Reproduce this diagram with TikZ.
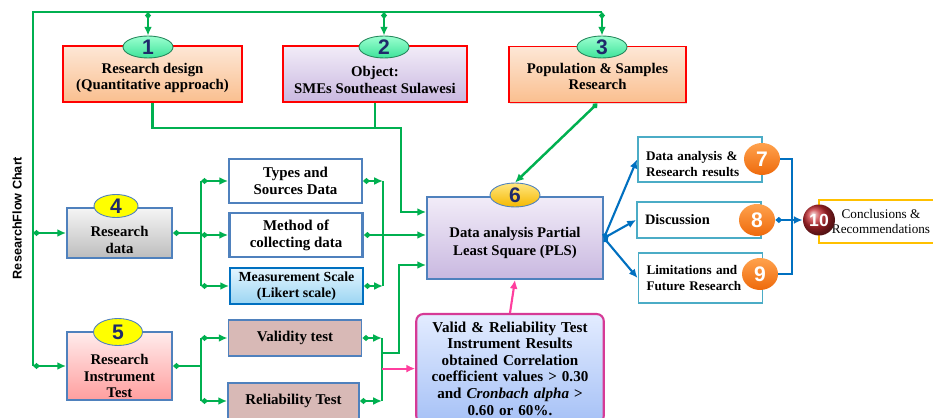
\documentclass[tikz,border=0pt]{standalone}
\usepackage{fontspec}
\setmainfont{Liberation Serif}
\setsansfont{Liberation Sans}
\usetikzlibrary{arrows.meta, positioning, shapes.geometric, calc, shadows}
\definecolor{rfgreen}{HTML}{00B050}
\definecolor{rfred}{HTML}{FF0000}
\definecolor{rfblue}{HTML}{4F81BD}
\definecolor{rfdarkblue}{HTML}{0070C0}
\definecolor{rfteal}{HTML}{4BACC6}
\definecolor{rfnavy}{HTML}{1F2A6B}
\definecolor{rfpink}{HTML}{FF3E9E}
\definecolor{rfmagenta}{HTML}{D63A96}
\definecolor{rfpeach}{HTML}{FDE7D6}
\definecolor{rforange}{HTML}{FABF8F}
\definecolor{rflilac}{HTML}{F2ECF8}
\definecolor{rfpurple}{HTML}{C9B8E0}
\definecolor{rfmint}{HTML}{9BFFD0}
\definecolor{rfmintdark}{HTML}{3EE39A}
\definecolor{rfyellow}{HTML}{FFFF00}
\definecolor{rfgold}{HTML}{F5B800}
\definecolor{rfgoldlight}{HTML}{FFE680}
\definecolor{rfgray}{HTML}{BDBDBD}
\definecolor{rfsky}{HTML}{E3F5FF}
\definecolor{rfskydark}{HTML}{9BD5F2}
\definecolor{rfrose}{HTML}{D8B9B6}
\definecolor{rfpinklight}{HTML}{FFECEC}
\definecolor{rfsalmon}{HTML}{FF9E9E}
\definecolor{rfice}{HTML}{E3ECFF}
\definecolor{rfperiwinkle}{HTML}{A6C1F6}
\definecolor{rfbadge}{HTML}{EE6A0C}
\definecolor{rfbadgelight}{HTML}{FFA24D}
\definecolor{rfwine}{HTML}{C42A30}
\definecolor{rfamber}{HTML}{FFC000}

\begin{document}
\begin{tikzpicture}[
  x=0.02cm, y=-0.02cm,
  every node/.style={font=\fontsize{8}{9.4}\selectfont\bfseries, align=center, inner sep=1pt},
  boxshadow/.style={drop shadow={opacity=0.25, shadow xshift=0.7pt, shadow yshift=-0.7pt}},
  topbox/.style={rectangle, draw=rfred, line width=1pt, minimum height=1.12cm, boxshadow},
  sidebox/.style={rectangle, draw=rfblue, line width=1.1pt, minimum width=2.1cm, boxshadow},
  subbox/.style={rectangle, draw=rfblue, line width=1.1pt, minimum width=2.66cm, minimum height=0.72cm, font=\fontsize{8.5}{9.6}\selectfont\bfseries},
  outbox/.style={rectangle, draw=rfteal, line width=1.1pt, fill=white, minimum width=2.48cm},
  bigtext/.style={font=\fontsize{8.4}{9.6}\selectfont\bfseries},
  outtext/.style={align=left, text width=2.16cm, font=\fontsize{7.5}{8.6}\selectfont\bfseries},
  numbadge/.style={ellipse, draw=#1, line width=0.5pt, inner sep=0pt, text=rfnavy, font=\fontsize{12}{12}\selectfont\sffamily\bfseries},
  roundbadge/.style={ellipse, minimum width=0.72cm, minimum height=0.64cm, inner sep=0pt, text=white, font=\fontsize{12}{12}\selectfont\sffamily\bfseries},
  flow/.style={rfgreen, line width=1.4pt},
  flowarrow/.style={flow, {Diamond[length=4pt,width=3.5pt]}-{Latex[length=5pt,width=4.5pt]}},
  pinkarrow/.style={rfpink, line width=1.2pt, -{Latex[length=5pt,width=4.5pt]}},
  bluearrow/.style={rfdarkblue, line width=1.2pt, {Circle[length=3pt]}-{Latex[length=5pt,width=4.5pt]}},
]
\useasboundingbox (0,0) rectangle (933,418);
\fill[white] (0,0) rectangle (933,418);
\clip (0,0) rectangle (933,418);

% Title on the left
\node[rotate=90, font=\fontsize{7.2}{8}\selectfont\sffamily\bfseries] (title) at (17,218) {ResearchFlow Chart};

% Top row
\node[topbox, top color=rfpeach, bottom color=rforange, minimum width=3.58cm] (b1) at (152.5,74) {};
\node[bigtext] (b1text) at (152.5,78) {Research design\\(Quantitative approach)};
\node[topbox, top color=rflilac, bottom color=rfpurple, minimum width=3.68cm] (b2) at (375,74) {};
\node[bigtext] (b2text) at (375,80) {Object:\\SMEs Southeast Sulawesi};
\node[topbox, top color=rfpeach, bottom color=rforange, minimum width=3.54cm] (b3) at (597.5,74.5) {};
\node[bigtext] (b3text) at (597.5,76.5) {Population \& Samples\\Research};
\node[numbadge=rfmintdark!60!black, top color=rfmint, bottom color=rfmintdark, minimum width=1cm, minimum height=0.44cm] (n1) at (148,47) {1};
\node[numbadge=rfmintdark!60!black, top color=rfmint, bottom color=rfmintdark, minimum width=1cm, minimum height=0.44cm] (n2) at (384,47) {2};
\node[numbadge=rfmintdark!60!black, top color=rfmint, bottom color=rfmintdark, minimum width=1cm, minimum height=0.44cm] (n3) at (602,47) {3};

% Research data and its sub-boxes
\node[sidebox, top color=white!96!black, bottom color=rfgray, minimum height=1cm] (b4) at (119.5,233) {};
\node[bigtext] (b4text) at (119.5,240) {Research\\data};
\node[numbadge=rfblue, fill=rfyellow, minimum width=0.88cm, minimum height=0.46cm] (n4) at (116,206) {4};
\node[subbox, fill=white, minimum height=0.88cm] (types) at (295.5,181) {Types and\\Sources Data};
\node[subbox, fill=white, line width=1.6pt, minimum height=0.88cm] (method) at (296,235) {Method of\\collecting data};
\node[subbox, draw=rfdarkblue, top color=rfsky, bottom color=rfskydark, font=\fontsize{7.9}{9}\selectfont\bfseries] (likert) at (296.5,286) {Measurement Scale\\(Likert scale)};

% Research instrument test and its sub-boxes
\node[sidebox, top color=rfpinklight, bottom color=rfsalmon, minimum height=1.36cm] (b5) at (119.5,366) {};
\node[bigtext, font=\fontsize{8.4}{9.2}\selectfont\bfseries] (b5text) at (119.5,376) {Research\\Instrument\\Test};
\node[numbadge=rfblue, fill=rfyellow, minimum width=0.98cm, minimum height=0.54cm] (n5) at (118,332) {5};
\node[subbox, fill=rfrose] (valid) at (295,338) {Validity test};
\node[subbox, fill=rfrose, minimum width=2.62cm] (reliab) at (293.5,401) {Reliability Test};

% Analysis
\node[rectangle, draw=rfblue, line width=1.1pt, top color=rflilac, bottom color=rfpurple, minimum width=3.52cm, minimum height=1.64cm, boxshadow] (pls) at (515,238) {};
\node[bigtext, font=\fontsize{8.4}{10}\selectfont\bfseries] (plstext) at (515,243) {Data analysis Partial\\Least Square (PLS)};
\node[numbadge=rfblue, top color=rfgoldlight, bottom color=rfgold, minimum width=1cm, minimum height=0.48cm] (n6) at (515,195) {6};
\node[rectangle, rounded corners=4pt, draw=rfmagenta, line width=1.2pt, top color=rfice, bottom color=rfperiwinkle, text width=3.68cm, inner xsep=1pt, inner ysep=4.5pt, anchor=north, font=\fontsize{8.6}{9.4}\selectfont\bfseries] (note) at (510,313) {Valid \& Reliability Test\\Instrument Results\\obtained Correlation\\coefficient values > 0.30\\and \textit{Cronbach alpha} >\\0.60 or 60\%.};

% Outcomes
\node[outbox, minimum height=0.9cm] (b7) at (700,159.5) {};
\node[outtext] (b7text) at (700,164) {Data analysis \&\\Research results};
\node[outbox, minimum height=0.72cm] (b8) at (699,220) {};
\node[outtext, font=\fontsize{8.2}{9}\selectfont\bfseries] (b8text) at (699,220) {Discussion};
\node[outbox, minimum height=1cm] (b9) at (700.5,278) {};
\node[outtext] (b9text) at (700.5,278) {Limitations and\\Future Research};
\node[roundbadge, top color=rfbadgelight, bottom color=rfbadge] (n7) at (762,159) {7};
\node[roundbadge, top color=rfbadgelight, bottom color=rfbadge] (n8) at (757,220) {8};
\node[roundbadge, top color=rfbadgelight, bottom color=rfbadge] (n9) at (760,274) {9};
\node[rectangle, draw=rfamber, line width=1.2pt, fill=white, minimum width=3cm, minimum height=0.86cm, anchor=west] (concl) at (818,221.5) {};
\node[font=\fontsize{7.5}{9}\selectfont] (concltext) at (881,221.5) {Conclusions \&\\Recommendations};
\node[roundbadge, ball color=rfwine, minimum width=0.64cm, minimum height=0.62cm, font=\fontsize{10}{10}\selectfont\sffamily\bfseries] (n10) at (819,220) {10};

% Outer green frame
\coordinate (topL) at (33,12);
\draw[flow] (n3 |- topL) -- (topL) -- (topL |- b5.west);
\draw[flowarrow] (topL -| n1) -- (n1.north);
\draw[flowarrow] (topL -| n2) -- (n2.north);
\draw[flowarrow] (topL -| n3) -- (n3.north);
\draw[flowarrow] (topL |- b4.west) -- (b4.west);
\draw[flowarrow] (topL |- b5.west) -- (b5.west);

% Design and object into PLS
\coordinate (j1) at (401,128);
\draw[flow, -{Latex[length=5pt,width=4.5pt]}] (b1.south) |- (j1) |- ($(pls.west)+(0,-26)$);
\draw[flow] (b2.south) -- (b2.south |- j1);
\draw[flowarrow] (b3.south) -- (n6.north);

% Research data bus
\coordinate (busA) at (201,233);
\coordinate (busB) at (383,233);
\draw[flow, {Diamond[length=4pt,width=3.5pt]}-] (b4.east) -- (busA);
\draw[flow] (busA |- types.west) -- (busA |- likert.west);
\draw[flowarrow] (busA |- types.west) -- (types.west);
\draw[flowarrow] (busA |- method.west) -- (method.west);
\draw[flowarrow] (busA |- likert.west) -- (likert.west);
\draw[flow] (busB |- types.east) -- (busB |- likert.east);
\draw[flowarrow] (types.east) -- (types.east -| busB);
\draw[flowarrow] (likert.east) -- (likert.east -| busB);
\draw[flowarrow] (method.east) -- (method.east -| pls.west);

% Instrument test bus
\coordinate (busC) at (201,366);
\coordinate (busD) at (382,353);
\draw[flow, {Diamond[length=4pt,width=3.5pt]}-] (b5.east) -- (busC);
\draw[flow] (busC |- valid.west) -- (busC |- reliab.west);
\draw[flowarrow] (busC |- valid.west) -- (valid.west);
\draw[flowarrow] (busC |- reliab.west) -- (reliab.west);
\draw[flow] (busD |- valid.east) -- (busD |- reliab.east);
\draw[flowarrow] (valid.east) -- (valid.east -| busD);
\draw[flowarrow] (reliab.east) -- (reliab.east -| busD);
\draw[flow, -{Latex[length=5pt,width=4.5pt]}] (busD) -| ($(pls.west)+(-27,27)$) -- ($(pls.west)+(0,27)$);
\draw[pinkarrow] (busD |- note.west) -- (note.west);
\draw[pinkarrow] (note.north) -- (pls.south);

% PLS to outcomes
\draw[bluearrow] (pls.east) -- (b7.west);
\draw[bluearrow] (pls.east) -- (b8.west);
\draw[bluearrow] (pls.east) -- (b9.west);
\coordinate (j3) at (792,220);
\draw[rfdarkblue, line width=1.2pt] (n7.east) -| (j3) |- (n9.east);
\draw[rfdarkblue, line width=1.2pt, {Diamond[length=4pt,width=3.5pt]}-{Latex[length=5pt,width=4.5pt]}] (n8.east) -- (n10.west);

\end{tikzpicture}
\end{document}
